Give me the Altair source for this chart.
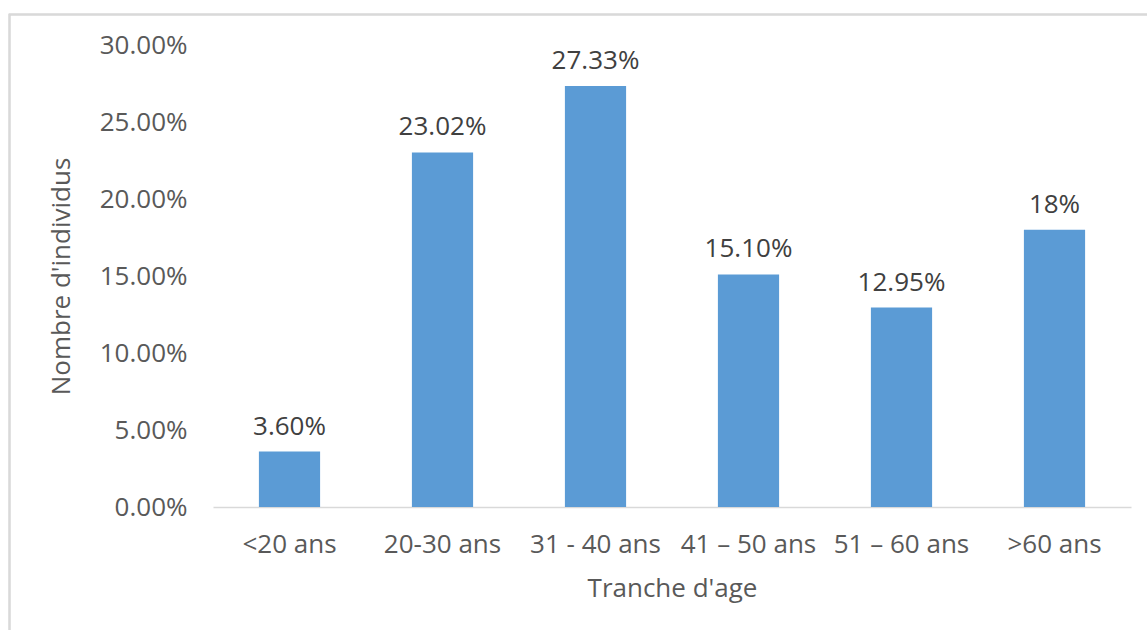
import altair as alt
import pandas as pd

# Age brackets and share of individuals in each
tranches = ["<20 ans", "20-30 ans", "31 - 40 ans", "41 – 50 ans", "51 – 60 ans", ">60 ans"]
parts = [0.0360, 0.2302, 0.2733, 0.1510, 0.1295, 0.18]
etiquettes = ["3.60%", "23.02%", "27.33%", "15.10%", "12.95%", "18%"]

df = pd.DataFrame({"tranche": tranches, "part": parts, "etiquette": etiquettes})

FONT = "Open Sans"
W, H = 918, 462

x = alt.X(
    "tranche:N",
    sort=tranches,
    scale=alt.Scale(paddingInner=0.6, paddingOuter=0.3),
    axis=alt.Axis(
        title="Tranche d'age",
        labelAngle=0,
        ticks=False,
        domainColor="#d9d9d9",
        domainWidth=1.5,
        labelPadding=24,
        titlePadding=18,
    ),
)
y = alt.Y(
    "part:Q",
    scale=alt.Scale(domain=[0, 0.30], nice=False),
    axis=alt.Axis(
        title="Nombre d'individus",
        format=".2%",
        values=[0, 0.05, 0.10, 0.15, 0.20, 0.25, 0.30],
        grid=False,
        ticks=False,
        domain=False,
        labelPadding=26,
        titlePadding=25,
    ),
)

bars = alt.Chart(df).mark_bar(color="#5B9BD5").encode(x=x, y=y)

labels = alt.Chart(df).mark_text(
    font=FONT, fontSize=26, color="#404040", baseline="alphabetic", dy=-17
).encode(x=x, y=y, text="etiquette:N")

frame = alt.Chart(df).mark_rect(
    fill=None, stroke="#d9d9d9", strokeWidth=1.5, clip=False
).encode(
    x=alt.value(-203.5), x2=alt.value(W + 200),
    y=alt.value(-30.5), y2=alt.value(H + 300),
)

chart = (
    alt.layer(frame, bars, labels)
    .properties(
        width=W,
        height=H,
        autosize=alt.AutoSizeParams(type="none"),
        padding={"left": 213, "top": 45, "right": 16, "bottom": 123},
        background="white",
    )
    .configure_view(stroke=None)
    .configure_axis(
        labelFont=FONT,
        labelFontSize=26,
        labelColor="#595959",
        titleFont=FONT,
        titleFontSize=26,
        titleColor="#595959",
        titleFontWeight="normal",
    )
)

chart.save("out.html", embed_options={"renderer": "svg", "actions": False})
